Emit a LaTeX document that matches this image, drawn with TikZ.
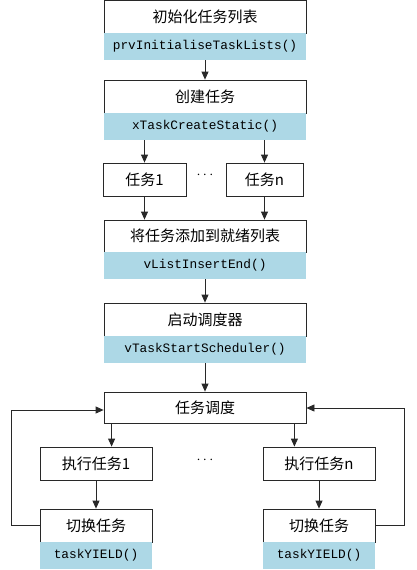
\documentclass[tikz,border=0pt]{standalone}
\usepackage{fontspec}
\newfontfamily\cjk{Noto Sans CJK SC}
\newfontfamily\codef{Liberation Mono}
\usetikzlibrary{arrows.meta}
\definecolor{bandblue}{RGB}{173,216,230}
\definecolor{lnc}{RGB}{40,40,40}
\begin{document}
\begin{tikzpicture}[x=1pt,y=-1pt,
  wbox/.style={draw=lnc, line width=0.8pt, fill=white, minimum height=33pt, inner sep=0pt, font=\cjk\fontsize{15}{18}\selectfont},
  bandn/.style={fill=bandblue, minimum height=27pt, inner sep=0pt, font=\codef\fontsize{12.8}{15}\selectfont},
  arr/.style={draw=lnc, line width=0.8pt, -{Triangle[length=8pt,width=7pt]}},
  dotsn/.style={font=\fontsize{15}{18}\selectfont}]
\useasboundingbox (0,0) rectangle (416,570);
% main column
\node[wbox, minimum width=202pt] (b1) at (205,16.5) {初始化任务列表};
\node[bandn, minimum width=202pt] (k1) at (205,46.5) {prvInitialiseTaskLists()};
\node[wbox, minimum width=202pt] (b2) at (205,96.5) {创建任务};
\node[bandn, minimum width=202pt] (k2) at (205,126.5) {xTaskCreateStatic()};
\node[wbox, minimum width=83pt] (t1) at (144.5,179.5) {任务1};
\node[wbox, minimum width=77pt] (tn) at (264.5,179.5) {任务n};
\node[dotsn] (d1) at (205,175) {$\cdots$};
\node[wbox, minimum width=202pt, minimum height=32pt] (b3) at (205,236) {将任务添加到就绪列表};
\node[bandn, minimum width=202pt] (k3) at (205,265.5) {vListInsertEnd()};
\node[wbox, minimum width=202pt] (b4) at (205,319.5) {启动调度器};
\node[bandn, minimum width=202pt] (k4) at (205,349.5) {vTaskStartScheduler()};
\node[wbox, minimum width=202pt, minimum height=31pt] (sch) at (205,407.5) {任务调度};
% branches
\node[wbox, minimum width=112pt] (e1) at (96,463.5) {执行任务1};
\node[wbox, minimum width=112pt] (en) at (319,463.5) {执行任务n};
\node[dotsn] (d2) at (205,460) {$\cdots$};
\node[wbox, minimum width=112pt] (s1) at (96,525.5) {切换任务};
\node[bandn, minimum width=112pt] (y1) at (96,555.5) {taskYIELD()};
\node[wbox, minimum width=112pt] (sn) at (319,525.5) {切换任务};
\node[bandn, minimum width=112pt] (yn) at (319,555.5) {taskYIELD()};
% connectors
\draw[arr] (k1) -- (b2);
\draw[arr] (k2.south -| t1) -- (t1);
\draw[arr] (k2.south -| tn) -- (tn);
\draw[arr] (t1) -- (t1 |- b3.north);
\draw[arr] (tn) -- (tn |- b3.north);
\draw[arr] (k3) -- (b4);
\draw[arr] (k4) -- (sch);
\draw[arr] ([xshift=8pt]sch.south west) -- ([xshift=8pt]sch.south west |- e1.north);
\draw[arr] ([xshift=-12pt]sch.south east) -- ([xshift=-12pt]sch.south east |- en.north);
\draw[arr] (e1) -- (s1);
\draw[arr] (en) -- (sn);
\draw[arr] (s1.west) -- ++(-28,0) |- ([yshift=-2.5pt]sch.west);
\draw[arr] (sn.east) -- ++(29,0) |- ([yshift=-0.5pt]sch.east);
\end{tikzpicture}
\end{document}
